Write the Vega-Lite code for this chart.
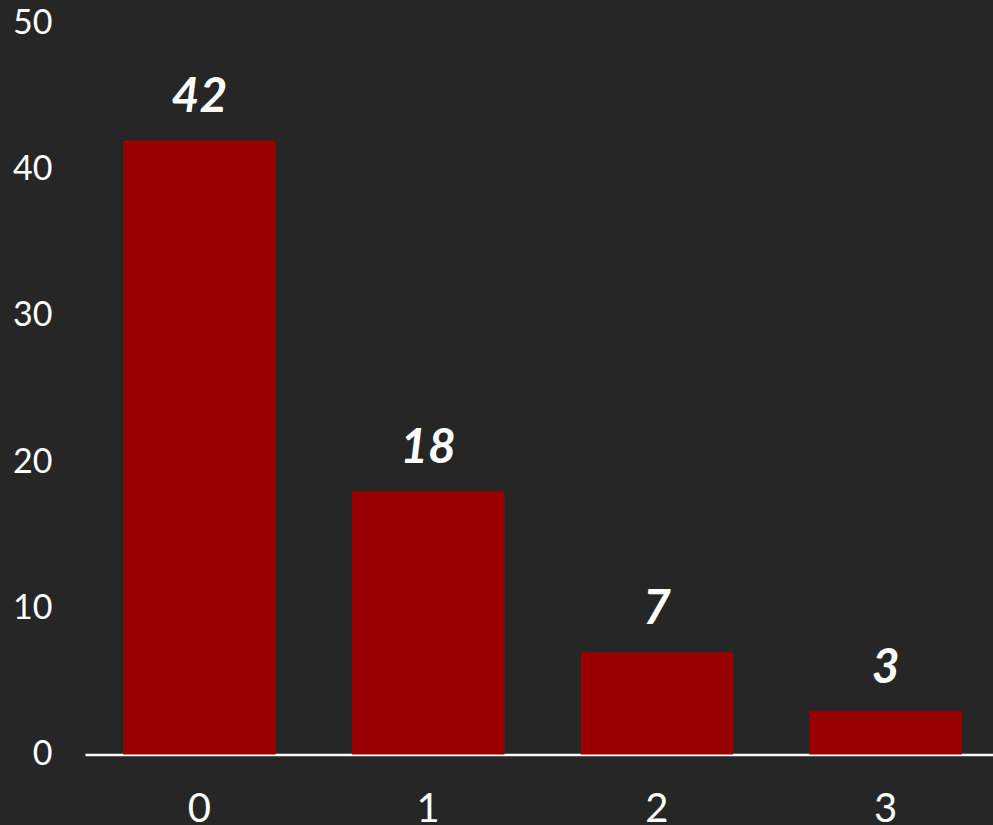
{
  "$schema": "https://vega.github.io/schema/vega-lite/v6.json",
  "autosize": {"type": "none"},
  "padding": {"left": 85, "top": 23.5, "right": 0, "bottom": 70.5},
  "width": 908,
  "height": 731,
  "background": "#262626",
  "config": {"view": {"stroke": null}, "font": "Lato"},
  "data": {
    "values": [
      {"category": "0", "count": 42},
      {"category": "1", "count": 18},
      {"category": "2", "count": 7},
      {"category": "3", "count": 3}
    ]
  },
  "encoding": {
    "x": {
      "field": "category",
      "type": "ordinal",
      "sort": null,
      "scale": {"range": [0, 915], "paddingInner": 0.3333, "paddingOuter": 0.1667},
      "axis": {
        "title": null,
        "labelAngle": 0,
        "domain": true,
        "domainColor": "#FFFFFF",
        "domainWidth": 2.5,
        "ticks": false,
        "labelPadding": 67,
        "labelBaseline": "alphabetic",
        "labelFont": "Lato",
        "labelFontSize": 40,
        "labelColor": "#FFFFFF"
      }
    },
    "y": {
      "field": "count",
      "type": "quantitative",
      "scale": {"domain": [0, 50], "nice": false},
      "axis": {
        "title": null,
        "values": [0, 10, 20, 30, 40, 50],
        "grid": false,
        "domain": false,
        "ticks": false,
        "labelPadding": 33,
        "labelBaseline": "middle",
        "labelFont": "Lato",
        "labelFontSize": 34,
        "labelColor": "#FFFFFF"
      }
    }
  },
  "layer": [
    {"mark": {"type": "bar", "color": "#990000"}},
    {
      "mark": {
        "type": "text",
        "dy": -28,
        "baseline": "alphabetic",
        "font": "Lato",
        "fontSize": 48,
        "fontWeight": "bold",
        "fontStyle": "italic",
        "color": "#FFFFFF"
      },
      "encoding": {"text": {"field": "count", "type": "quantitative"}}
    }
  ]
}
